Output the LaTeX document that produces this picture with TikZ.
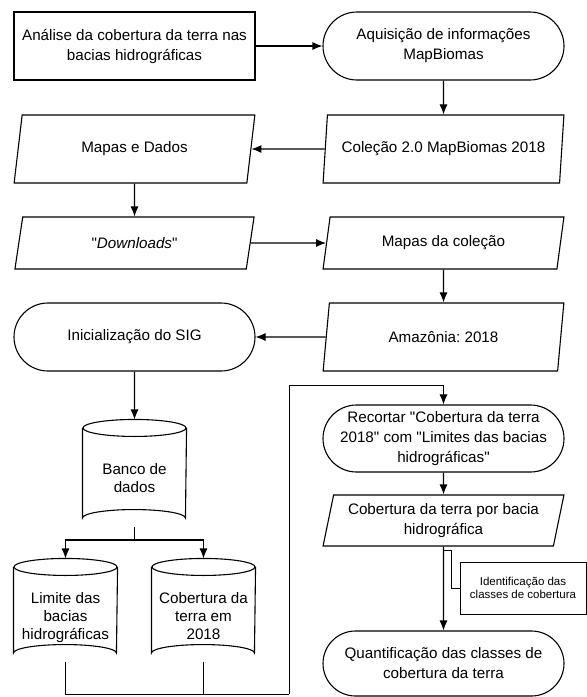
\documentclass[tikz,border=0pt]{standalone}
\usepackage{fontspec}
\newfontfamily\lucid{Liberation Sans}
\usepackage{tikz}
\usetikzlibrary{arrows.meta, positioning, shapes.geometric, shapes.misc}
\frenchspacing
% text set a little lower inside the cylinders
\newcommand{\cyltext}[2]{\raisebox{#1}[0pt][0pt]{\begin{tabular}{@{}c@{}}#2\end{tabular}}}

\begin{document}
\begin{tikzpicture}[x=1pt, y=-1pt, >={Latex[length=10pt, width=8pt]}, line width=1.1pt]
		\tikzstyle{proc} = [draw, rectangle, minimum width=241pt, minimum height=68pt, inner sep=0pt, align=center, font=\lucid\fontsize{15.2}{20}\selectfont]
		\tikzstyle{term} = [draw, rounded rectangle, minimum width=241pt, minimum height=68pt, inner sep=0pt, align=center, font=\lucid\fontsize{15.2}{20}\selectfont]
		\tikzstyle{io} = [draw, trapezium, trapezium left angle=75, trapezium right angle=105, trapezium stretches=true, minimum width=241pt, minimum height=68pt, inner sep=0pt, align=center, font=\lucid\fontsize{15.2}{20}\selectfont]
		\tikzstyle{db} = [rectangle, minimum width=103pt, minimum height=102pt, inner sep=0pt, font=\lucid\fontsize{15.2}{18}\selectfont]
		\tikzstyle{note} = [draw, rectangle, line width=0.8pt, minimum width=126pt, minimum height=52pt, inner sep=0pt, align=center, font=\lucid\fontsize{11.5}{13.3}\selectfont]
		
		\useasboundingbox (0,0) rectangle (587,697);
		
		\node[proc] 	at (134.5, 46) 		(analise) 	{Análise da cobertura da terra nas\\bacias hidrográficas};
		\node[term] 	at (443.5, 46) 		(aquis) 	{Aquisição de informações\\MapBiomas};
		\node[io] 		at (443.5, 149) 	(colecao) 	{Coleção 2.0 MapBiomas 2018};
		\node[io] 		at (134.5, 149) 	(mapas) 	{Mapas e Dados};
		\node[io, minimum height=52pt] 	at (134.5, 243) 	(down) 	{"\textit{Downloads}"};
		\node[io, minimum height=52pt] 	at (443.5, 243) 	(mapcol) 	{Mapas da coleção};
		\node[io] 		at (443.5, 337) 	(amaz) 		{Amazônia: 2018};
		\node[term] 	at (134.5, 337) 	(sig) 		{Inicialização do SIG};
		\node[db, minimum height=106pt] 	at (134.5, 473) 	(banco) 	{\cyltext{-10.8pt}{Banco de\\dados}};
		\node[db] 		at (65.5, 610) 		(limite) 	{\cyltext{-11.8pt}{Limite das\\bacias\\hidrográficas}};
		\node[db] 		at (203.5, 610) 	(cobert) 	{\cyltext{-11.8pt}{Cobertura da\\terra em\\2018}};
		\node[term, minimum height=67pt] 	at (443.5, 438.5) 	(recorte) 	{Recortar "Cobertura da terra\\2018" com "Limites das bacias\\hidrográficas"};
		\node[io, minimum height=51pt] 	at (443.5, 520.5) 	(porbacia) 	{Cobertura da terra por bacia\\hidrográfica};
		\node[note] 	at (523, 588) 		(ident) 	{Identificação das\\classes de cobertura};
		\node[term, minimum height=65pt] 	at (443.5, 663.5) 	(quant) 	{Quantificação das classes de\\cobertura da terra};
		
		% cylinder outlines round the three database nodes
		\foreach \c in {banco, limite, cobert} {
			\draw ([yshift=-8.5pt]\c.north) ellipse [x radius=51.5pt, y radius=8.5pt];
			\draw ([yshift=-8.5pt]\c.north west) -- ([yshift=8.5pt]\c.south west)
				arc[start angle=180, end angle=0, x radius=51.5pt, y radius=8.5pt]
				-- ([yshift=-8.5pt]\c.north east);
		}
		
		\coordinate (split) at (134.5, 540);
		\coordinate (low) 	at (289, 694);
		\coordinate (high) 	at (289, 385);
		\coordinate (tap) 	at (443.5, 550);
		
		\path[->]
		(analise)	edge	(aquis)
		(aquis)		edge	(colecao)
		(colecao)	edge	(mapas)
		(mapas)		edge	(down)
		(down)		edge	(mapcol)
		(mapcol)	edge	(amaz)
		(amaz)		edge	(sig)
		(sig)		edge	(banco)
		(recorte)	edge	(porbacia)
		(porbacia)	edge	(quant);
		
		\draw (banco.south) -- (split);
		\draw[->] (split) -| (limite.north);
		\draw[->] (split) -| (cobert.north);
		\draw[line width=0.8pt] (limite.south) |- (low);
		\draw[line width=0.8pt] (cobert.south) -- (cobert.south |- low);
		\draw[->, line width=0.8pt] (low) -- (high) -| (recorte.north);
		\draw[line width=0.8pt] (tap) -- ++(8,0) |- (ident.west);
		\end{tikzpicture}
\end{document}
